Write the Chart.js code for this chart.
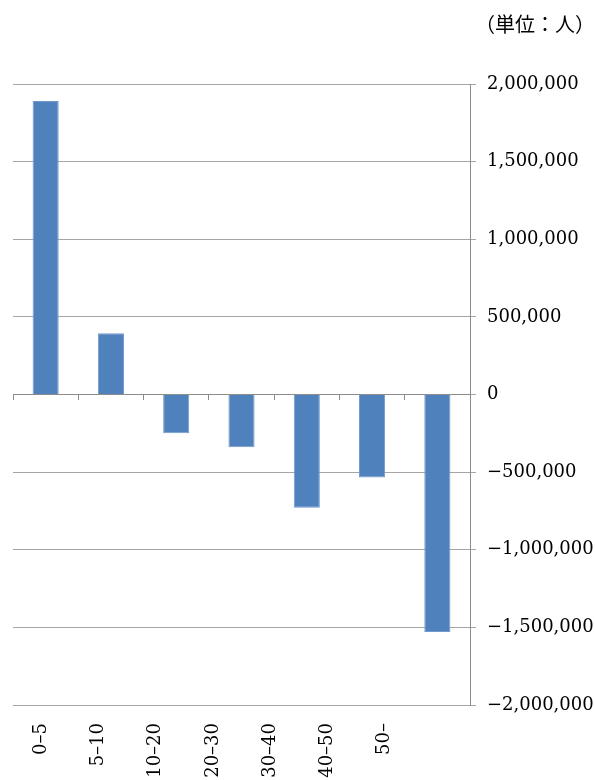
<!DOCTYPE html>
<html>
<head>
<meta charset="utf-8">
<script src="https://cdn.jsdelivr.net/npm/chart.js@4/dist/chart.umd.min.js"></script>
<style>
    body { margin: 0; background: #fff; }
    #wrap { position: relative; width: 595px; height: 780px; }
    #unit {
        position: absolute; left: 475px; top: 9px;
        font-family: "Noto Sans CJK JP", sans-serif; font-size: 20px; color: #000;
    }
</style>
</head>
<body>
<div id="wrap">
    <canvas id="chart" width="595" height="780"></canvas>
    <div id="unit">（単位：人）</div>
</div>
<script>
// 年齢層（区分）
const categories = ['0–5', '5–10', '10–20', '20–30', '30–40', '40–50', '50–'];
// 軸ラベル（元図ではラベル間隔がバーと少しずれている）
const tickLabels = ['0–5', '5–10', '10–20', '20–30', '30–40', '40–50', '50–', ''];
// 増減（人）
const values = [1890000, 395000, -250000, -340000, -730000, -535000, -1530000];
const yMin = -2000000;
const yMax = 2000000;
const yStep = 500000;

const serif = 'DejaVu Serif';

new Chart(document.getElementById('chart'), {
    type: 'bar',
    data: {
        labels: categories,
        datasets: [{
            data: values,
            xAxisID: 'x',
            backgroundColor: '#4f81bd',
            borderColor: '#7399cb',
            borderWidth: 1,
            barPercentage: 0.4,
            categoryPercentage: 1.0
        }]
    },
    options: {
        responsive: false,
        animation: false,
        layout: { padding: { left: 13, top: 84, right: 0, bottom: 0 } },
        plugins: {
            legend: { display: false },
            tooltip: { enabled: false }
        },
        scales: {
            x: {
                position: { y: 0 },
                offset: true,
                grid: {
                    offset: true,
                    drawOnChartArea: false,
                    tickLength: 5,
                    color: '#8c8c8c'
                },
                border: { color: '#8c8c8c' },
                ticks: { display: false }
            },
            x2: {
                type: 'category',
                position: 'bottom',
                labels: tickLabels,
                offset: true,
                grid: { display: false, drawTicks: false },
                border: { display: false },
                ticks: {
                    autoSkip: false,
                    minRotation: 90,
                    maxRotation: 90,
                    padding: 18,
                    color: '#000',
                    font: { family: serif, size: 18 }
                },
                afterFit: (s) => { s.height = 75; }
            },
            y: {
                position: 'right',
                min: yMin,
                max: yMax,
                grid: {
                    color: '#a6a6a6',
                    tickLength: 6
                },
                border: { color: '#8c8c8c' },
                ticks: {
                    stepSize: yStep,
                    padding: 11,
                    color: '#000',
                    font: { family: serif, size: 18 },
                    callback: (v) => v.toLocaleString('en-US').replace('-', '−')
                },
                afterFit: (s) => { s.width = 125; }
            }
        }
    }
});
</script>
</body>
</html>
